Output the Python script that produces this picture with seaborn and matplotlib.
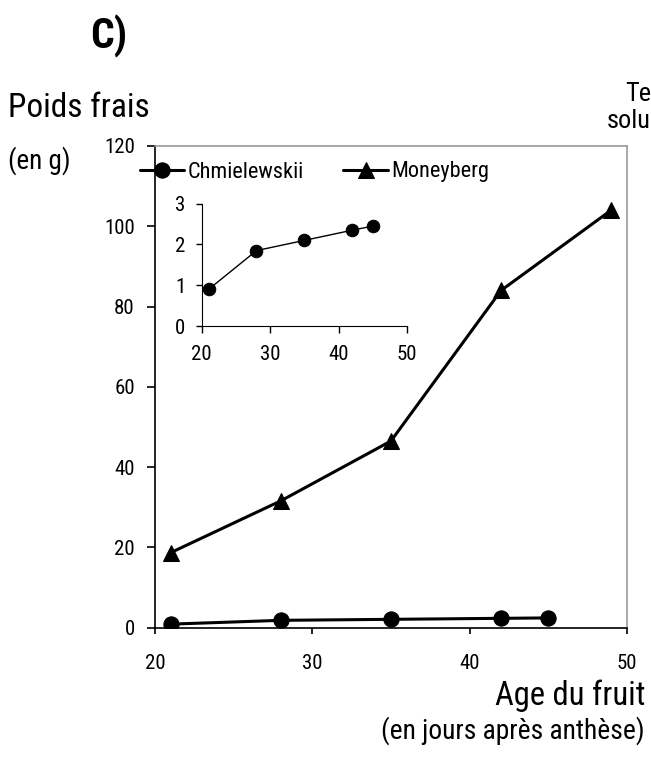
import seaborn as sns
import matplotlib.pyplot as plt
import pandas as pd

# Fresh weight of fruit vs age (days after anthesis)
age_chm = [21, 28, 35, 42, 45]
weight_chm = [0.9, 1.85, 2.1, 2.35, 2.45]
age_mon = [21, 28, 35, 42, 49]
weight_mon = [18.7, 31.6, 46.5, 84.0, 104.0]

x_ticks = [20, 30, 40, 50]
y_ticks = [0, 20, 40, 60, 80, 100, 120]
inset_y_ticks = [0, 1, 2, 3]

sns.set_style("ticks")
plt.rcParams["font.family"] = ["Roboto Condensed", "Liberation Sans", "DejaVu Sans"]
plt.rcParams["text.color"] = "black"
plt.rcParams["xtick.color"] = "black"
plt.rcParams["ytick.color"] = "black"

chm = pd.DataFrame({"age": age_chm, "weight": weight_chm})
mon = pd.DataFrame({"age": age_mon, "weight": weight_mon})

fig = plt.figure(figsize=(6.51, 7.6), dpi=100)
ax = fig.add_axes([0.238, 0.174, 0.725, 0.634])

sns.lineplot(data=chm, x="age", y="weight", ax=ax, color="black", lw=2.2,
             marker="o", markersize=11, markeredgecolor="black",
             label="Chmielewskii")
sns.lineplot(data=mon, x="age", y="weight", ax=ax, color="black", lw=2.2,
             marker="^", markersize=12, markeredgecolor="black",
             label="Moneyberg")

ax.set_xlim(20, 50)
ax.set_ylim(0, 120)
ax.set_xticks(x_ticks)
ax.set_yticks(y_ticks)
ax.tick_params(labelsize=15, width=1.2, direction="out")
ax.tick_params(axis="x", length=4, pad=15)
ax.tick_params(axis="y", length=5.5, pad=9)
ax.set_xlabel("")
ax.set_ylabel("")
for side in ["left", "bottom"]:
    ax.spines[side].set_color("black")
    ax.spines[side].set_linewidth(1.2)
for side in ["top", "right"]:
    ax.spines[side].set_visible(True)
    ax.spines[side].set_color("#999999")
    ax.spines[side].set_linewidth(1.2)

ax.legend(loc="center left", bbox_to_anchor=(140 / 651, 1 - 172 / 760),
          bbox_transform=fig.transFigure, ncol=2, frameon=False,
          fontsize=16, handlelength=2.0, handletextpad=0.13,
          columnspacing=1.8, borderpad=0, borderaxespad=0)

# inset: Chmielewskii alone
ins = fig.add_axes([0.310, 0.571, 0.315, 0.161])
sns.lineplot(data=chm, x="age", y="weight", ax=ins, color="black", lw=1.0,
             marker="o", markersize=9, markeredgecolor="black", legend=False)
ins.set_xlim(20, 50)
ins.set_ylim(0, 3)
ins.set_xticks(x_ticks)
ins.set_yticks(inset_y_ticks)
ins.tick_params(labelsize=15, width=1, direction="out")
ins.tick_params(axis="x", length=5, pad=9)
ins.tick_params(axis="y", length=4, pad=8)
ins.set_xlabel("")
ins.set_ylabel("")
ins.patch.set_alpha(0)
sns.despine(ax=ins)
for side in ["left", "bottom"]:
    ins.spines[side].set_color("black")

fig.text(90 / 651, 1 - 48 / 760, "C)", fontsize=30, fontweight="bold", va="baseline")
fig.text(8 / 651, 1 - 117 / 760, "Poids frais", fontsize=24, va="baseline")
fig.text(8 / 651, 1 - 169 / 760, "(en g)", fontsize=19.5, va="baseline")
fig.text(1.0, 1 - 101 / 760, "Te", fontsize=19, ha="right", va="baseline")
fig.text(1.0, 1 - 128 / 760, "solu", fontsize=19, ha="right", va="baseline")
fig.text(645 / 651, 1 - 705 / 760, "Age du fruit", fontsize=23.5, ha="right", va="baseline")
fig.text(645 / 651, 1 - 739 / 760, "(en jours après anthèse)", fontsize=19.8, ha="right", va="baseline")

fig.savefig("out.png", dpi=100)
